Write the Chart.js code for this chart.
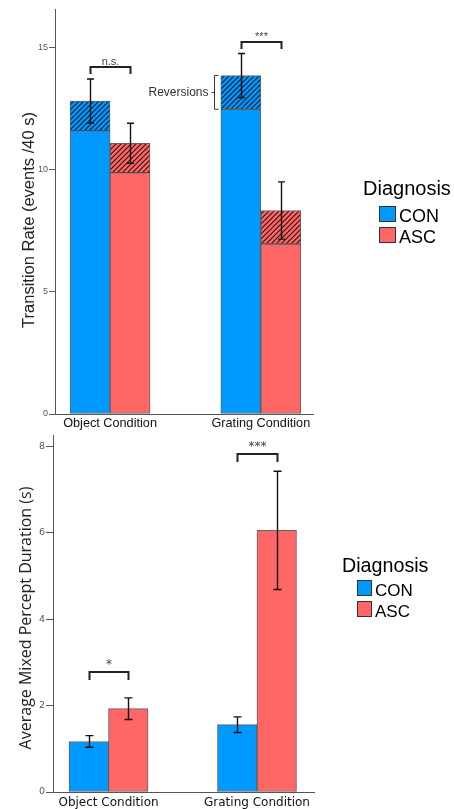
<!DOCTYPE html>
<html>
<head>
<meta charset="utf-8">
<title>Transition rate and mixed percept duration</title>
<script src="https://cdn.jsdelivr.net/npm/chart.js@4.4.0/dist/chart.umd.min.js"></script>
<style>
  html, body { margin: 0; padding: 0; background: #fff; }
  #wrap { width: 454px; height: 809px; }
  canvas { display: block; }
</style>
</head>
<body>
<div id="wrap">
  <canvas id="rateChart" width="454" height="430"></canvas>
  <canvas id="durationChart" width="454" height="379"></canvas>
</div>
<script>
// categories / groups
const conditions = ['Object Condition', 'Grating Condition'];
const groups = ['CON', 'ASC'];

// top panel: transition rate (events / 40 s) = switches + reversions
const conSwitches = [11.59, 12.46];
const conReversions = [1.21, 1.38];
const ascSwitches = [9.87, 6.95];
const ascReversions = [1.20, 1.37];
const conRateErr = [0.90, 0.90];
const ascRateErr = [0.82, 1.17];
const rateTicks = [0, 5, 10, 15];
const rateSig = ['n.s.', '***'];
const rateSigLevel = [14.2, 15.2];

// bottom panel: average mixed percept duration (s)
const conDuration = [1.17, 1.56];
const ascDuration = [1.93, 6.06];
const conDurErr = [0.135, 0.18];
const ascDurErr = [0.25, 1.37];
const durTicks = [0, 2, 4, 6, 8];
const durSig = ['*', '***'];
const durSigLevel = [2.77, 7.83];

const BLUE = '#0099ff';
const RED = '#ff6666';
const EDGE = 'rgba(45,45,45,0.75)';

function hatch(ctx, base) {
    const c = document.createElement('canvas');
    c.width = 5; c.height = 5;
    const g = c.getContext('2d');
    g.fillStyle = base;
    g.fillRect(0, 0, 5, 5);
    g.strokeStyle = 'rgba(0,0,0,0.8)';
    g.lineWidth = 1.2;
    g.beginPath();
    g.moveTo(-1, 6); g.lineTo(6, -1);
    g.moveTo(-1, 1); g.lineTo(1, -1);
    g.moveTo(4, 6); g.lineTo(6, 4);
    g.stroke();
    return ctx.createPattern(c, 'repeat');
}

const pts = arr => arr.map((v, i) => ({x: i, y: v}));
const sum = (a, b) => a.map((v, i) => v + b[i]);

// error bars, significance brackets, reversions bracket, titles and legend
const panelDecor = {
    id: 'panelDecor',
    afterDatasetsDraw(chart, args, o) {
        const ctx = chart.ctx;
        const ys = chart.scales.y;
        ctx.save();
        ctx.strokeStyle = '#111';
        ctx.lineWidth = 1.4;
        o.errors.forEach(e => {
            const meta = chart.getDatasetMeta(e.dataset);
            meta.data.forEach((bar, i) => {
                const hi = ys.getPixelForValue(e.mean[i] + e.err[i]);
                const lo = ys.getPixelForValue(e.mean[i] - e.err[i]);
                const x = Math.round(bar.x) + 0.5;
                ctx.beginPath();
                ctx.moveTo(x, hi); ctx.lineTo(x, lo);
                ctx.moveTo(x - o.cap, hi); ctx.lineTo(x + o.cap, hi);
                ctx.moveTo(x - o.cap, lo); ctx.lineTo(x + o.cap, lo);
                ctx.stroke();
            });
        });

        const a = chart.getDatasetMeta(o.errors[0].dataset);
        const b = chart.getDatasetMeta(o.errors[1].dataset);
        o.sig.forEach((label, i) => {
            const x1 = Math.round(a.data[i].x) + 0.5, x2 = Math.round(b.data[i].x) + 0.5;
            const y = Math.round(ys.getPixelForValue(o.sigLevel[i]));
            ctx.lineWidth = 2;
            ctx.strokeStyle = '#222';
            ctx.beginPath();
            ctx.moveTo(x1, y + o.leg); ctx.lineTo(x1, y); ctx.lineTo(x2, y); ctx.lineTo(x2, y + o.leg);
            ctx.stroke();
            ctx.font = o.sigFont;
            ctx.fillStyle = '#444';
            ctx.textAlign = 'center';
            ctx.textBaseline = 'alphabetic';
            ctx.fillText(label, (x1 + x2) / 2, y - o.sigGap);
        });

        if (o.reversions) {
            const bar = chart.getDatasetMeta(o.reversions.dataset).data[o.reversions.index];
            const x = Math.round(bar.x - bar.width / 2) - 6.5;
            const t = bar.y, bt = bar.base;
            ctx.lineWidth = 1;
            ctx.strokeStyle = '#333';
            ctx.beginPath();
            ctx.moveTo(x + 4, t); ctx.lineTo(x, t); ctx.lineTo(x, bt); ctx.lineTo(x + 4, bt);
            ctx.moveTo(x, (t + bt) / 2); ctx.lineTo(x - 3, (t + bt) / 2);
            ctx.stroke();
            ctx.font = '12px "Liberation Sans", Arial, sans-serif';
            ctx.fillStyle = '#333';
            ctx.textAlign = 'right';
            ctx.textBaseline = 'middle';
            ctx.fillText('Reversions', x - 6, (t + bt) / 2);
        }
        ctx.restore();
    },
    afterDraw(chart, args, o) {
        const ctx = chart.ctx;
        ctx.save();
        // y axis title
        ctx.translate(o.title.x, o.title.y);
        ctx.rotate(-Math.PI / 2);
        ctx.font = o.title.font;
        ctx.fillStyle = '#222';
        ctx.textAlign = 'center';
        ctx.textBaseline = 'alphabetic';
        ctx.fillText(o.title.text, 0, 0);
        ctx.restore();

        // legend
        const lg = o.legend;
        ctx.save();
        ctx.fillStyle = '#000';
        ctx.textAlign = 'left';
        ctx.textBaseline = 'alphabetic';
        ctx.font = lg.titleFont;
        ctx.fillText('Diagnosis', lg.tx, lg.ty);
        ctx.font = lg.font;
        ctx.lineWidth = 1;
        ctx.strokeStyle = '#333';
        [BLUE, RED].forEach((col, i) => {
            const by = lg.by[i];
            ctx.fillStyle = col;
            ctx.fillRect(lg.bx, by, lg.bw, lg.bh);
            ctx.strokeRect(lg.bx + 0.5, by + 0.5, lg.bw - 1, lg.bh - 1);
            ctx.fillStyle = '#000';
            ctx.fillText(groups[i], lg.lx, by + lg.bh);
        });
        ctx.restore();
    }
};

function scales(o) {
    return {
        x: {
            type: 'linear',
            offset: false,
            min: o.xMin,
            max: o.xMax,
            grid: { display: false, drawTicks: false, offset: false },
            border: { display: true, color: '#555', width: 1 },
            afterBuildTicks: s => { s.ticks = conditions.map((c, i) => ({value: i})); },
            afterFit: s => { s.height = o.xHeight; s.paddingLeft = 0; s.paddingRight = 0; },
            ticks: {
                autoSkip: false, maxRotation: 0,
                padding: o.xPad,
                color: '#111',
                font: o.xFont,
                callback: v => conditions[v]
            }
        },
        y: {
            stacked: true,
            min: 0,
            max: o.yMax,
            grid: { drawOnChartArea: false, drawTicks: true, tickLength: o.tickLen, color: '#555' },
            border: { display: true, color: '#555', width: 1 },
            afterBuildTicks: s => { s.ticks = o.ticks.map(v => ({value: v})); },
            afterFit: s => { s.width = o.yWidth; s.paddingTop = 0; s.paddingBottom = 0; },
            ticks: { padding: 1, color: '#555', font: o.yFont }
        }
    };
}

// ---- top panel ----
const rateCtx = document.getElementById('rateChart').getContext('2d');
new Chart(rateCtx, {
    type: 'bar',
    data: {
        datasets: [
            { label: 'CON', stack: 'CON', data: pts(conSwitches), backgroundColor: BLUE },
            { label: 'CON reversions', stack: 'CON', data: pts(conReversions), backgroundColor: hatch(rateCtx, BLUE) },
            { label: 'ASC', stack: 'ASC', data: pts(ascSwitches), backgroundColor: RED },
            { label: 'ASC reversions', stack: 'ASC', data: pts(ascReversions), backgroundColor: hatch(rateCtx, RED) }
        ]
    },
    options: {
        responsive: false,
        animation: false,
        layout: { padding: { top: 9, right: 140.7, bottom: 0, left: 0 } },
        datasets: { bar: { barThickness: 40, borderWidth: 1, borderColor: EDGE, borderSkipped: false } },
        scales: scales({
            xMin: -0.365, xMax: 1.348, xHeight: 16, xPad: 2,
            xFont: { family: '"Liberation Sans", Arial, sans-serif', size: 12.7 },
            yMax: 16.56, ticks: rateTicks, tickLen: 6, yWidth: 55,
            yFont: { family: '"Liberation Sans", Arial, sans-serif', size: 9 }
        }),
        plugins: {
            legend: { display: false },
            tooltip: { enabled: false },
            panelDecor: {
                cap: 3.5,
                errors: [
                    { dataset: 1, mean: sum(conSwitches, conReversions), err: conRateErr },
                    { dataset: 3, mean: sum(ascSwitches, ascReversions), err: ascRateErr }
                ],
                sig: rateSig, sigLevel: rateSigLevel, leg: 7, sigGap: 2.5,
                sigFont: '11px "Liberation Sans", Arial, sans-serif',
                reversions: { dataset: 1, index: 1 },
                title: { text: 'Transition Rate (events /40 s)', x: 33.5, y: 220,
                         font: '16.5px "Liberation Sans", Arial, sans-serif' },
                legend: { tx: 363, ty: 195, titleFont: '20px "Liberation Sans", Arial, sans-serif',
                          font: '18px "Liberation Sans", Arial, sans-serif',
                          bx: 379, bw: 17, bh: 16, by: [206, 227], lx: 399 }
            }
        }
    },
    plugins: [panelDecor]
});

// ---- bottom panel ----
const durCtx = document.getElementById('durationChart').getContext('2d');
new Chart(durCtx, {
    type: 'bar',
    data: {
        datasets: [
            { label: 'CON', stack: 'CON', data: pts(conDuration), backgroundColor: BLUE },
            { label: 'ASC', stack: 'ASC', data: pts(ascDuration), backgroundColor: RED }
        ]
    },
    options: {
        responsive: false,
        animation: false,
        layout: { padding: { top: 5, right: 140, bottom: 0, left: 0 } },
        datasets: { bar: { barThickness: 39.5, borderWidth: 1, borderColor: EDGE, borderSkipped: false } },
        scales: scales({
            xMin: -0.374, xMax: 1.384, xHeight: 17, xPad: 4,
            xFont: { family: '"DejaVu Sans", Verdana, sans-serif', size: 12 },
            yMax: 8.27, ticks: durTicks, tickLen: 7, yWidth: 53,
            yFont: { family: '"DejaVu Sans", Verdana, sans-serif', size: 9.5 }
        }),
        plugins: {
            legend: { display: false },
            tooltip: { enabled: false },
            panelDecor: {
                cap: 4,
                errors: [
                    { dataset: 0, mean: conDuration, err: conDurErr },
                    { dataset: 1, mean: ascDuration, err: ascDurErr }
                ],
                sig: durSig, sigLevel: durSigLevel, leg: 8, sigGap: 4,
                sigFont: '12px "DejaVu Sans", Verdana, sans-serif',
                title: { text: 'Average Mixed Percept Duration (s)', x: 31, y: 188,
                         font: '16px "Open Sans", sans-serif' },
                legend: { tx: 342, ty: 141.7, titleFont: '19.7px "Liberation Sans", Arial, sans-serif',
                          font: '17px "Liberation Sans", Arial, sans-serif',
                          bx: 357, bw: 15, bh: 16, by: [150, 171], lx: 375 }
            }
        }
    },
    plugins: [panelDecor]
});
</script>
</body>
</html>
